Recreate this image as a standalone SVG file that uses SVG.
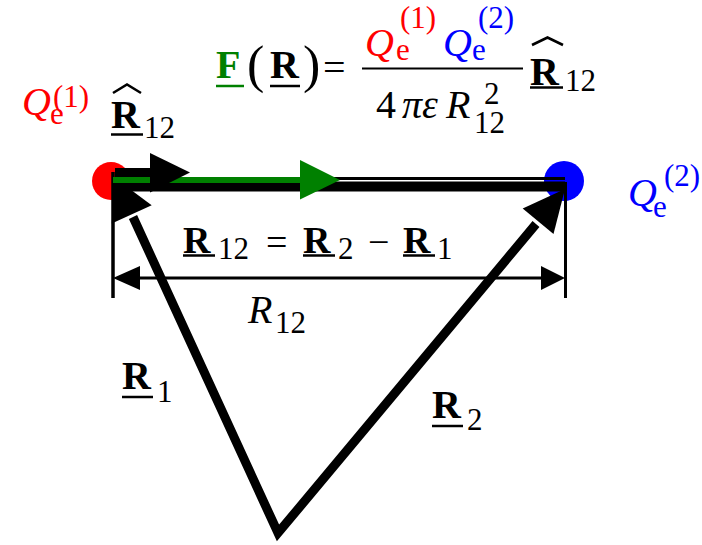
<svg xmlns="http://www.w3.org/2000/svg" width="702" height="545" viewBox="0 0 702 545" font-family="Liberation Serif, serif">
<style>
text{font-family:Liberation Serif,serif;font-size:40px;fill:#000}
.b{font-weight:bold}
.i{font-style:italic}
.s{font-size:31px}
.r{fill:#FF0000}
.bl{fill:#0000FF}
.g{fill:#008000}
.ul{stroke:#000;stroke-width:2.5;fill:none}
.hat{stroke:#000;stroke-width:2.6;fill:none;stroke-linejoin:miter}
.vec{stroke:#000;fill:none}
.head{fill:#000;stroke:none}
</style>
<rect width="702" height="545" fill="#fff"/>

<g id="q1">
<circle cx="111" cy="181" r="19" fill="#FF0000"/>
</g>
<g id="q2">
<circle cx="564" cy="181" r="20" fill="#0000FF"/>
</g>

<g id="connectors">
<line class="vec" x1="113" y1="186.5" x2="565" y2="186.5" stroke-width="10"/>
<line class="vec" x1="113" y1="178.5" x2="565" y2="178.5" stroke-width="3"/>
<line class="vec" x1="113" y1="172" x2="113" y2="298" stroke-width="3.5"/>
<line class="vec" x1="565.5" y1="182" x2="565.5" y2="298" stroke-width="3"/>
<line class="vec" x1="130" y1="278" x2="550" y2="278" stroke-width="3"/>
<polygon class="head" points="113,278 140,266 140,290"/>
<polygon class="head" points="565,278 541,266 541,290"/>
<path class="vec" d="M133,217 L278,533 L536,224" stroke-width="9" stroke-linejoin="miter" stroke-miterlimit="10"/>
<polygon class="head" points="115,178 151.7,205.2 111.7,223.6"/>
<polygon class="head" points="565,189 553.5,234.1 522.7,208.5"/>
<line x1="113" y1="180" x2="304" y2="180" stroke="#008000" stroke-width="6"/>
<polygon points="300,160 340,180 300,199.5" fill="#008000"/>
<line class="vec" x1="115" y1="172.5" x2="154" y2="172.5" stroke-width="9"/>
<polygon class="head" points="150,153 190,172.5 150,192.5"/>
</g>

<g id="label-q1">
<text class="i r" x="22" y="115">Q</text>
<text class="s r" x="50" y="124">e</text>
<text class="s r" x="53" y="107">(1)</text>
</g>
<g id="label-r12hat-left">
<text class="b" x="111" y="128">R</text>
<line class="ul" x1="111" y1="134.5" x2="143" y2="134.5"/>
<path class="hat" d="M113,93 L127,84.5 L141,93"/>
<text class="s" x="144" y="138">12</text>
</g>
<g id="label-q2">
<text class="i bl" x="628" y="206">Q</text>
<text class="s bl" x="653" y="217">e</text>
<text class="s bl" x="664" y="186">(2)</text>
</g>

<g id="formula">
<text class="b g" x="216" y="78">F</text>
<line x1="216" y1="86" x2="244" y2="86" stroke="#008000" stroke-width="2.5"/>
<text x="247" y="82" style="font-size:52px">(</text>
<text class="b" x="270" y="78">R</text>
<line class="ul" x1="270" y1="86" x2="300" y2="86"/>
<text x="303" y="82" style="font-size:52px">)</text>
<text x="323" y="81">=</text>
<line x1="362" y1="68.5" x2="523" y2="68.5" stroke="#000" stroke-width="2"/>
<text class="i r" x="365" y="56">Q</text>
<text class="s r" x="396" y="60">e</text>
<text class="s r" x="400" y="28">(1)</text>
<text class="i bl" x="443" y="56">Q</text>
<text class="s bl" x="472" y="60">e</text>
<text class="s bl" x="478" y="28">(2)</text>
<text x="376" y="118">4</text>
<text class="i" x="402" y="118">πε</text>
<text class="i" x="446" y="118">R</text>
<text class="s" x="484" y="104">2</text>
<text class="s" x="474" y="133">12</text>
<text class="b" x="530" y="85">R</text>
<line class="ul" x1="530" y1="87.5" x2="563" y2="87.5"/>
<path class="hat" d="M532,45 L547.5,37.5 L563,45"/>
<text class="s" x="565" y="91">12</text>
</g>

<g id="label-r12-eq">
<text class="b" x="183" y="253" style="font-size:38px">R</text>
<line class="ul" x1="183" y1="255.5" x2="215" y2="255.5"/>
<text class="s" x="218" y="259">12</text>
<text x="266" y="255" style="font-size:38px">=</text>
<text class="b" x="303" y="253" style="font-size:38px">R</text>
<line class="ul" x1="303" y1="255.5" x2="335" y2="255.5"/>
<text class="s" x="338" y="259">2</text>
<text x="368" y="255" style="font-size:38px">−</text>
<text class="b" x="403" y="253" style="font-size:38px">R</text>
<line class="ul" x1="403" y1="255.5" x2="435" y2="255.5"/>
<text class="s" x="437" y="259">1</text>
</g>

<g id="label-R12">
<text class="i" x="248" y="323">R</text>
<text class="s" x="275" y="333">12</text>
</g>
<g id="label-R1">
<text class="b" x="122" y="389">R</text>
<line class="ul" x1="122" y1="397" x2="153" y2="397"/>
<text class="s" x="157" y="402">1</text>
</g>
<g id="label-R2">
<text class="b" x="432" y="418">R</text>
<line class="ul" x1="432" y1="426" x2="463" y2="426"/>
<text class="s" x="467" y="430">2</text>
</g>
</svg>
